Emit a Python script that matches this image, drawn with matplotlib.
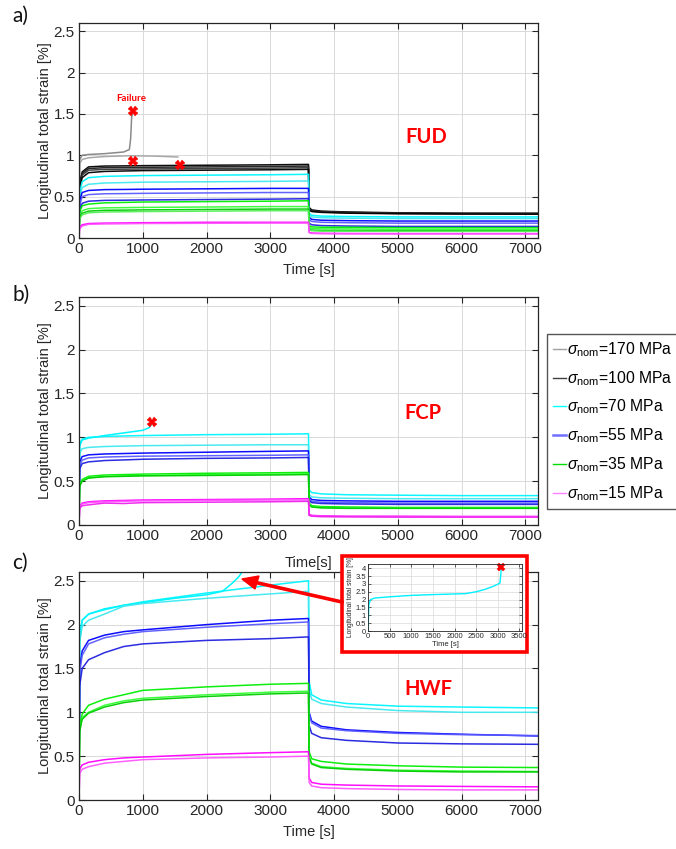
import matplotlib
matplotlib.use("Agg")
import matplotlib.pyplot as plt
from matplotlib.patches import Rectangle
from matplotlib.ticker import MultipleLocator, FuncFormatter

plt.rcParams['font.family'] = ['Liberation Sans', 'DejaVu Sans']
plt.rcParams['mathtext.fontset'] = 'custom'
plt.rcParams['mathtext.rm'] = 'Liberation Sans'
plt.rcParams['mathtext.it'] = 'Liberation Sans:italic'

# ---------------- data ----------------
# common time grid of the load / unload tests [s]
t_full = [0, 10, 50, 150, 400, 700, 1000, 2000, 3000, 3600,
          3610, 3650, 3800, 4200, 5000, 6000, 7200]

# FUD
fud_gray_fail_t = [0, 10, 50, 150, 400, 700, 790, 810, 825, 840]
fud_gray_fail = [0, 0.95, 1.00, 1.01, 1.02, 1.04, 1.07, 1.20, 1.45, 1.53]
fud_gray2_t = [0, 10, 50, 150, 400, 800, 1200, 1550]
fud_gray2 = [0, 0.90, 0.95, 0.97, 0.985, 0.995, 0.99, 0.98]
fud_black = [
    [0, 0.66, 0.80, 0.86, 0.870, 0.872, 0.875, 0.880, 0.885, 0.89, 0.37, 0.34, 0.325, 0.315, 0.305, 0.300, 0.300],
    [0, 0.64, 0.78, 0.84, 0.850, 0.852, 0.855, 0.860, 0.865, 0.87, 0.36, 0.33, 0.320, 0.310, 0.300, 0.297, 0.295],
    [0, 0.62, 0.76, 0.82, 0.830, 0.832, 0.835, 0.840, 0.845, 0.85, 0.35, 0.325, 0.315, 0.305, 0.297, 0.293, 0.290],
    [0, 0.60, 0.73, 0.79, 0.805, 0.810, 0.815, 0.820, 0.825, 0.83, 0.34, 0.32, 0.310, 0.300, 0.293, 0.290, 0.288],
]
fud_cyan = [
    [0, 0.55, 0.68, 0.73, 0.745, 0.750, 0.755, 0.760, 0.765, 0.77, 0.30, 0.275, 0.265, 0.26, 0.255, 0.255, 0.255],
    [0, 0.50, 0.61, 0.65, 0.665, 0.670, 0.675, 0.680, 0.685, 0.69, 0.28, 0.255, 0.245, 0.24, 0.235, 0.235, 0.235],
]
fud_blue = [
    [0, 0.45, 0.55, 0.575, 0.585, 0.587, 0.590, 0.595, 0.600, 0.600, 0.25, 0.225, 0.215, 0.21, 0.205, 0.205, 0.205],
    [0, 0.40, 0.50, 0.525, 0.535, 0.537, 0.540, 0.545, 0.550, 0.550, 0.22, 0.200, 0.190, 0.185, 0.180, 0.180, 0.180],
    [0, 0.33, 0.42, 0.445, 0.455, 0.457, 0.460, 0.465, 0.470, 0.475, 0.18, 0.160, 0.150, 0.145, 0.140, 0.140, 0.140],
]
fud_green = [
    [0, 0.32, 0.39, 0.410, 0.425, 0.430, 0.435, 0.440, 0.445, 0.45, 0.15, 0.135, 0.130, 0.130, 0.125, 0.125, 0.125],
    [0, 0.27, 0.33, 0.355, 0.365, 0.367, 0.370, 0.375, 0.380, 0.38, 0.13, 0.115, 0.110, 0.110, 0.105, 0.105, 0.105],
    [0, 0.25, 0.30, 0.325, 0.335, 0.337, 0.340, 0.345, 0.350, 0.35, 0.11, 0.095, 0.090, 0.090, 0.088, 0.088, 0.088],
    [0, 0.23, 0.28, 0.305, 0.315, 0.317, 0.320, 0.325, 0.330, 0.33, 0.10, 0.088, 0.083, 0.082, 0.080, 0.080, 0.080],
]
fud_magenta = [
    [0, 0.13, 0.160, 0.175, 0.180, 0.182, 0.185, 0.190, 0.190, 0.19, 0.070, 0.060, 0.057, 0.055, 0.053, 0.053, 0.053],
    [0, 0.11, 0.145, 0.165, 0.170, 0.172, 0.175, 0.178, 0.180, 0.18, 0.065, 0.055, 0.052, 0.050, 0.050, 0.050, 0.050],
]
fud_fail_t = [840, 840, 1580]
fud_fail_y = [1.53, 0.93, 0.88]

# FCP
fcp_cyan_fail_t = [0, 10, 50, 150, 400, 700, 1000, 1100, 1150]
fcp_cyan_fail = [0, 0.90, 0.97, 0.99, 1.02, 1.05, 1.08, 1.11, 1.16]
fcp_cyan = [
    [0, 0.93, 0.98, 1.000, 1.010, 1.015, 1.020, 1.030, 1.035, 1.040, 0.40, 0.37, 0.355, 0.345, 0.340, 0.335, 0.335],
    [0, 0.82, 0.87, 0.885, 0.895, 0.900, 0.905, 0.910, 0.915, 0.915, 0.35, 0.32, 0.310, 0.305, 0.300, 0.300, 0.300],
]
fcp_blue = [
    [0, 0.72, 0.78, 0.800, 0.810, 0.815, 0.820, 0.830, 0.840, 0.845, 0.32, 0.290, 0.280, 0.275, 0.270, 0.270, 0.270],
    [0, 0.68, 0.74, 0.765, 0.775, 0.780, 0.785, 0.790, 0.795, 0.800, 0.30, 0.270, 0.260, 0.255, 0.250, 0.250, 0.250],
    [0, 0.64, 0.70, 0.720, 0.735, 0.742, 0.750, 0.760, 0.765, 0.770, 0.28, 0.255, 0.245, 0.240, 0.235, 0.235, 0.235],
]
fcp_green = [
    [0, 0.46, 0.52, 0.555, 0.570, 0.575, 0.580, 0.590, 0.595, 0.600, 0.25, 0.220, 0.210, 0.205, 0.200, 0.200, 0.200],
    [0, 0.45, 0.51, 0.540, 0.555, 0.560, 0.565, 0.575, 0.580, 0.585, 0.24, 0.210, 0.200, 0.195, 0.195, 0.195, 0.195],
    [0, 0.44, 0.50, 0.535, 0.550, 0.555, 0.560, 0.565, 0.570, 0.575, 0.23, 0.205, 0.195, 0.190, 0.190, 0.190, 0.190],
]
fcp_magenta = [
    [0, 0.22, 0.25, 0.265, 0.275, 0.280, 0.285, 0.290, 0.295, 0.300, 0.120, 0.110, 0.105, 0.100, 0.100, 0.097, 0.097],
    [0, 0.21, 0.24, 0.255, 0.265, 0.270, 0.275, 0.280, 0.285, 0.285, 0.115, 0.105, 0.100, 0.097, 0.095, 0.095, 0.095],
    [0, 0.19, 0.22, 0.230, 0.250, 0.245, 0.255, 0.260, 0.265, 0.270, 0.110, 0.100, 0.095, 0.093, 0.090, 0.090, 0.090],
]
fcp_fail_t = [1150]
fcp_fail_y = [1.18]

# HWF
hwf_cyan_fail_t = [0, 10, 50, 150, 400, 700, 1000, 1500, 2000, 2250, 2400, 2500, 2580]
hwf_cyan_fail = [0, 1.80, 2.05, 2.12, 2.18, 2.22, 2.25, 2.30, 2.34, 2.38, 2.47, 2.54, 2.62]
hwf_cyan = [
    [0, 1.90, 2.05, 2.12, 2.17, 2.22, 2.26, 2.36, 2.45, 2.50, 1.35, 1.20, 1.14, 1.10, 1.07, 1.06, 1.05],
    [0, 1.80, 1.98, 2.05, 2.12, 2.21, 2.24, 2.30, 2.35, 2.38, 1.25, 1.15, 1.10, 1.06, 1.02, 1.00, 1.00],
]
hwf_blue = [
    [0, 1.50, 1.70, 1.82, 1.88, 1.92, 1.94, 2.00, 2.05, 2.07, 1.00, 0.90, 0.84, 0.80, 0.77, 0.750, 0.730],
    [0, 1.45, 1.65, 1.78, 1.85, 1.89, 1.92, 1.97, 2.01, 2.03, 0.98, 0.88, 0.82, 0.79, 0.76, 0.745, 0.735],
    [0, 1.30, 1.50, 1.60, 1.68, 1.75, 1.78, 1.82, 1.84, 1.86, 0.85, 0.76, 0.71, 0.68, 0.65, 0.640, 0.635],
]
hwf_green = [
    [0, 0.85, 0.98, 1.08, 1.15, 1.20, 1.25, 1.29, 1.32, 1.33, 0.55, 0.47, 0.44, 0.41, 0.39, 0.375, 0.370],
    [0, 0.80, 0.94, 1.00, 1.08, 1.13, 1.16, 1.20, 1.23, 1.24, 0.50, 0.42, 0.38, 0.36, 0.34, 0.330, 0.325],
    [0, 0.78, 0.92, 0.99, 1.06, 1.11, 1.14, 1.18, 1.21, 1.22, 0.48, 0.41, 0.37, 0.35, 0.33, 0.320, 0.320],
]
hwf_magenta = [
    [0, 0.35, 0.40, 0.43, 0.46, 0.48, 0.49, 0.52, 0.54, 0.55, 0.25, 0.20, 0.18, 0.17, 0.16, 0.155, 0.150],
    [0, 0.30, 0.35, 0.38, 0.42, 0.44, 0.46, 0.48, 0.49, 0.50, 0.20, 0.16, 0.14, 0.13, 0.12, 0.115, 0.115],
]

# HWF 70 MPa specimen up to failure (inset)
inset_t = [0, 20, 60, 150, 500, 1000, 1500, 2000, 2250, 2500, 2700, 2900, 3050, 3070, 3080]
inset_y = [0, 1.70, 2.00, 2.10, 2.18, 2.27, 2.32, 2.36, 2.38, 2.50, 2.65, 2.85, 3.05, 3.60, 4.10]
inset_fail_t = [3080]
inset_fail_y = [4.10]

legend_labels = ['170', '100', '70', '55', '35', '15']
legend_colors = ['#a0a0a0', '#404040', '#00ffff', '#7070ff', '#00dd00', '#ff7fff']

# ---------------- styling ----------------
C_GRAY = ['#8a8a8a', '#a8a8a8']
C_BLACK = ['#000000', '#1c1c1c', '#383838', '#000000']
C_CYAN = ['#00f5ff', '#3fe8f0', '#00ffff']
C_BLUE = ['#0000ff', '#5a5aff', '#2020e0']
C_GREEN = ['#00ee00', '#33ff33', '#00cc00', '#55ee55']
C_MAG = ['#ff00ff', '#ff55ff', '#ee22ee']
AX_COL = '#262626'
LW = 1.1

W, H = 676, 849
fig = plt.figure(figsize=(W / 100, H / 100), dpi=100)


def fbox(x0, y0, x1, y1):
    """pixel box (top-left origin) -> figure fraction rect"""
    return [x0 / W, 1 - y1 / H, (x1 - x0) / W, (y1 - y0) / H]


def style_axes(ax, xlabel):
    ax.set_xlim(0, 7200)
    ax.set_ylim(0, 2.6)
    ax.xaxis.set_major_locator(MultipleLocator(1000))
    ax.yaxis.set_major_locator(MultipleLocator(0.5))
    ax.yaxis.set_major_formatter(FuncFormatter(lambda v, p: '%g' % v))
    ax.grid(True, color='#d9d9d9', lw=0.7)
    ax.set_axisbelow(True)
    ax.tick_params(direction='in', top=True, right=True, length=4, width=0.8,
                   labelsize=11, colors=AX_COL, pad=3)
    for s in ax.spines.values():
        s.set_color(AX_COL)
        s.set_linewidth(0.9)
    ax.set_ylabel('Longitudinal total strain [%]', fontsize=10.5, color=AX_COL, labelpad=1)
    ax.set_xlabel(xlabel, fontsize=10.5, color=AX_COL, labelpad=5)


def draw_group(ax, curves, colors, alpha=0.95):
    for i, y in enumerate(curves):
        ax.plot(t_full, y, color=colors[i % len(colors)], lw=LW, alpha=alpha)


def fail_marks(ax, t, y, ms=6.5):
    ax.plot(t, y, linestyle='none', marker='X', color='red', ms=ms,
            markeredgewidth=0.3, zorder=5)


# ---- a) FUD
ax_a = fig.add_axes(fbox(79, 23, 538, 238))
style_axes(ax_a, 'Time [s]')
ax_a.plot(fud_gray_fail_t, fud_gray_fail, color=C_GRAY[0], lw=LW)
ax_a.plot(fud_gray2_t, fud_gray2, color=C_GRAY[1], lw=LW)
draw_group(ax_a, fud_black, C_BLACK)
draw_group(ax_a, fud_cyan, C_CYAN)
draw_group(ax_a, fud_blue, C_BLUE)
draw_group(ax_a, fud_green, C_GREEN)
draw_group(ax_a, fud_magenta, C_MAG)
fail_marks(ax_a, fud_fail_t, fud_fail_y)
ax_a.text(815, 1.69, 'Failure', color='red', fontsize=7, fontweight='bold',
          family='Lato', ha='center', va='center')
ax_a.text(5450, 1.22, 'FUD', color='red', fontsize=14.5, fontweight='bold',
          family='Lato', ha='center', va='center')

# ---- b) FCP
ax_b = fig.add_axes(fbox(79, 297, 538, 525))
style_axes(ax_b, 'Time[s]')
ax_b.xaxis.labelpad = 9
ax_b.plot(fcp_cyan_fail_t, fcp_cyan_fail, color=C_CYAN[0], lw=LW)
draw_group(ax_b, fcp_cyan, C_CYAN)
draw_group(ax_b, fcp_blue, C_BLUE)
draw_group(ax_b, fcp_green, C_GREEN)
draw_group(ax_b, fcp_magenta, C_MAG)
fail_marks(ax_b, fcp_fail_t, fcp_fail_y)
ax_b.text(5400, 1.28, 'FCP', color='red', fontsize=14.5, fontweight='bold',
          family='Lato', ha='center', va='center')

# ---- c) HWF
ax_c = fig.add_axes(fbox(79, 572, 538, 800))
style_axes(ax_c, 'Time [s]')
ax_c.plot(hwf_cyan_fail_t, hwf_cyan_fail, color=C_CYAN[0], lw=LW, clip_on=True)
draw_group(ax_c, hwf_cyan, C_CYAN)
draw_group(ax_c, hwf_blue, C_BLUE)
draw_group(ax_c, hwf_green, C_GREEN)
draw_group(ax_c, hwf_magenta, C_MAG)
ax_c.text(5480, 1.27, 'HWF', color='red', fontsize=14.5, fontweight='bold',
          family='Lato', ha='center', va='center')

# panel letters
for lbl, yp in (('a)', 16), ('b)', 295), ('c)', 563)):
    fig.text(12 / W, 1 - yp / H, lbl, fontsize=15, family='Lato',
             ha='left', va='center', color='#111111')

# legend
handles = [plt.Line2D([], [], color=c, lw=1.8 if i == 3 else 1.0)
           for i, c in enumerate(legend_colors)]
labels = [r'$\sigma_{\mathrm{nom}}$=%s MPa' % v for v in legend_labels]
fig.legend(handles, labels, loc='upper left', bbox_to_anchor=(547 / W, 1 - 334 / H),
           fontsize=11.3, frameon=True, fancybox=False, edgecolor='#555555',
           framealpha=1, handlelength=0.8, handletextpad=0.1, labelspacing=0.64,
           borderpad=0.4, borderaxespad=0)

# inset with the 70 MPa HWF specimen until failure
box = Rectangle((342 / W, 1 - 652 / H), (527 - 342) / W, (652 - 556) / H,
                transform=fig.transFigure, facecolor='white', edgecolor='red',
                lw=2.6, zorder=3)
fig.add_artist(box)
ax_in = fig.add_axes(fbox(368, 564, 522, 631), zorder=4)
ax_in.plot(inset_t, inset_y, color='#00f0ff', lw=1.0)
ax_in.plot(inset_fail_t, inset_fail_y, linestyle='none', marker='X', color='red',
           ms=5.5, markeredgewidth=0.3, clip_on=False)
ax_in.set_xlim(0, 3560)
ax_in.set_ylim(0, 4.27)
ax_in.xaxis.set_major_locator(MultipleLocator(500))
ax_in.yaxis.set_major_locator(MultipleLocator(0.5))
ax_in.yaxis.set_major_formatter(FuncFormatter(lambda v, p: '%g' % v))
ax_in.grid(True, color='#d9d9d9', lw=0.5)
ax_in.tick_params(direction='in', top=True, right=True, length=2, width=0.5,
                  labelsize=5.5, colors=AX_COL, pad=1.5)
for s in ax_in.spines.values():
    s.set_color(AX_COL)
    s.set_linewidth(0.6)
ax_in.set_xlabel('Time [s]', fontsize=5.5, color=AX_COL, labelpad=1)
ax_in.set_ylabel('Longitudinal total strain [%]', fontsize=4.8, color=AX_COL, labelpad=1)

# arrow from the inset to the failing curve
fig.add_artist(plt.Line2D([342 / W, 258 / W], [1 - 602 / H, 1 - 583 / H],
                          transform=fig.transFigure, color='red', lw=2.6, zorder=3))
fig.patches.append(plt.Polygon([(242 / W, 1 - 579 / H), (259 / W, 1 - 576 / H),
                                (255 / W, 1 - 589 / H)], closed=True,
                               transform=fig.transFigure, facecolor='red',
                               edgecolor='red', zorder=3))

fig.savefig('out.png', dpi=100)
